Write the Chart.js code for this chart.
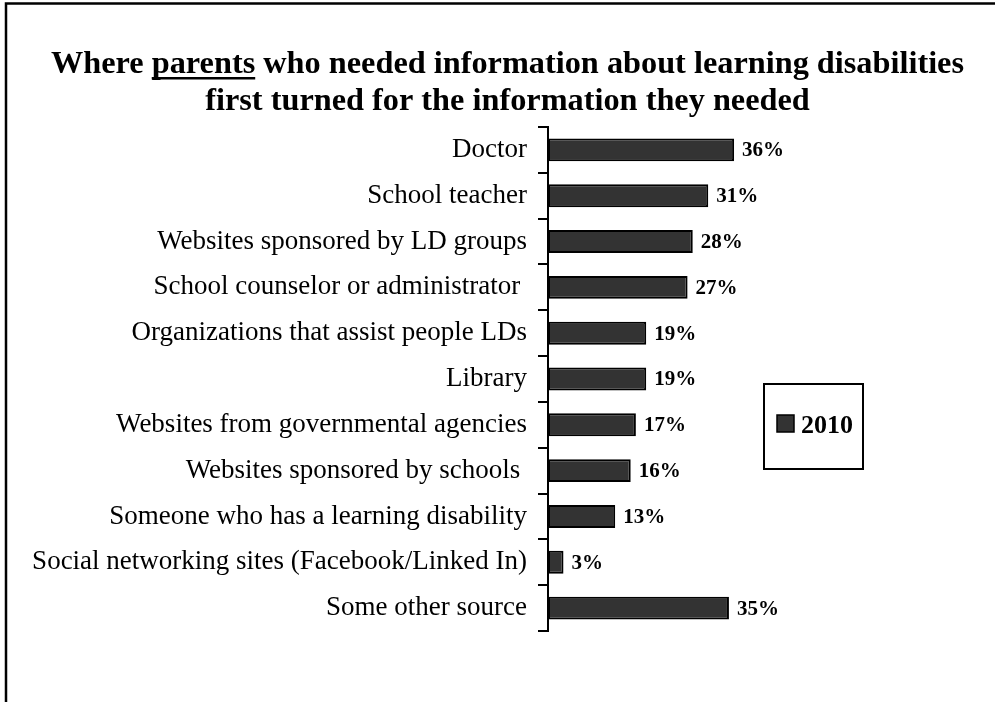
<!DOCTYPE html>
<html>
<head>
<meta charset="utf-8">
<script src="https://cdn.jsdelivr.net/npm/chart.js@4/dist/chart.umd.min.js"></script>
<style>
  html, body { margin: 0; padding: 0; background: #fff; overflow: hidden; }
  #wrap { position: relative; width: 995px; height: 702px; }
</style>
</head>
<body>
<div id="wrap"><canvas id="myChart"></canvas></div>
<script>
var sources = [
    "Doctor",
    "School teacher",
    "Websites sponsored by LD groups",
    "School counselor or administrator ",
    "Organizations that assist people LDs",
    "Library",
    "Websites from governmental agencies",
    "Websites sponsored by schools ",
    "Someone who has a learning disability",
    "Social networking sites (Facebook/Linked In)",
    "Some other source"
];
var pct2010 = [36, 31, 28, 27, 19, 19, 17, 16, 13, 3, 35];
var seriesName = "2010";
var titleLines = [
    "Where parents who needed information about learning disabilities",
    "first turned for the information they needed"
];
var underlinedWord = "parents";

var serif = "'Liberation Serif', 'Times New Roman', serif";
var barFill = "#333333";

// white page with the frame line on the left and top
var framePlugin = {
    id: 'frame',
    beforeDraw: function(chart) {
        var c = chart.ctx;
        c.save();
        c.fillStyle = '#fff';
        c.fillRect(0, 0, chart.width, chart.height);
        c.strokeStyle = '#000';
        c.lineWidth = 2.5;
        c.beginPath();
        c.moveTo(6, chart.height + 5);
        c.lineTo(6, 3.5);
        c.lineTo(chart.width + 5, 3.5);
        c.stroke();
        c.restore();
    }
};

// two-line heading, one word underlined
var headingPlugin = {
    id: 'heading',
    afterDraw: function(chart) {
        var c = chart.ctx;
        var cx = 507.5;
        var baselines = [73, 110];
        c.save();
        c.font = "bold 32.3px " + serif;
        c.fillStyle = '#000';
        c.textBaseline = 'alphabetic';
        c.textAlign = 'left';
        titleLines.forEach(function(line, i) {
            var w = c.measureText(line).width;
            var x0 = cx - w / 2;
            c.fillText(line, x0, baselines[i]);
            var at = line.indexOf(underlinedWord);
            if (i === 0 && at >= 0) {
                var ux = x0 + c.measureText(line.slice(0, at)).width;
                var uw = c.measureText(underlinedWord).width;
                c.fillRect(ux, baselines[i] + 4, uw, 2.5);
            }
        });
        c.restore();
    }
};

// percent figures at the end of each bar
var valueLabels = {
    id: 'valueLabels',
    afterDatasetsDraw: function(chart) {
        var c = chart.ctx;
        var meta = chart.getDatasetMeta(0);
        var vals = chart.data.datasets[0].data;
        c.save();
        c.font = "bold 21px " + serif;
        c.fillStyle = '#000';
        c.textAlign = 'left';
        c.textBaseline = 'middle';
        meta.data.forEach(function(bar, i) {
            c.fillText(vals[i] + '%', bar.x + 8, bar.y + 1);
        });
        c.restore();
    }
};

// boxed legend to the right of the bars
var boxLegend = {
    id: 'boxLegend',
    afterDraw: function(chart) {
        var c = chart.ctx;
        var ds = chart.data.datasets[0];
        c.save();
        c.strokeStyle = '#000';
        c.lineWidth = 2;
        c.strokeRect(764, 384, 99, 85);
        c.fillStyle = ds.backgroundColor;
        c.fillRect(777, 415, 17, 17);
        c.lineWidth = 1.5;
        c.strokeRect(777, 415, 17, 17);
        c.fillStyle = '#000';
        c.font = "bold 26px " + serif;
        c.textAlign = 'left';
        c.textBaseline = 'alphabetic';
        c.fillText(ds.label, 801, 433);
        c.restore();
    }
};

var ctx = document.getElementById('myChart').getContext('2d');
var chart = new Chart(ctx, {
    type: 'bar',
    data: {
        labels: sources,
        datasets: [{
            label: seriesName,
            data: pct2010,
            backgroundColor: barFill,
            borderColor: '#000',
            borderWidth: 2,
            borderSkipped: false,
            barPercentage: 0.5,
            categoryPercentage: 1.0
        }]
    },
    options: {
        indexAxis: 'y',
        responsive: true,
        maintainAspectRatio: false,
        animation: false,
        layout: {
            padding: { top: 127, bottom: 71, left: 0, right: 188.5 }
        },
        plugins: {
            legend: { display: false },
            title: { display: false },
            tooltip: { enabled: false }
        },
        scales: {
            x: {
                display: false,
                min: 0,
                max: 50
            },
            y: {
                afterFit: function(scale) { scale.width = 548; },
                border: { display: true, color: '#000', width: 2 },
                grid: {
                    offset: true,
                    drawOnChartArea: false,
                    drawTicks: true,
                    tickLength: 10,
                    color: '#000',
                    lineWidth: 2
                },
                ticks: {
                    color: '#000',
                    padding: 11,
                    autoSkip: false,
                    font: { family: serif, size: 27 }
                }
            }
        }
    },
    plugins: [framePlugin, valueLabels, headingPlugin, boxLegend]
});
</script>
</body>
</html>
